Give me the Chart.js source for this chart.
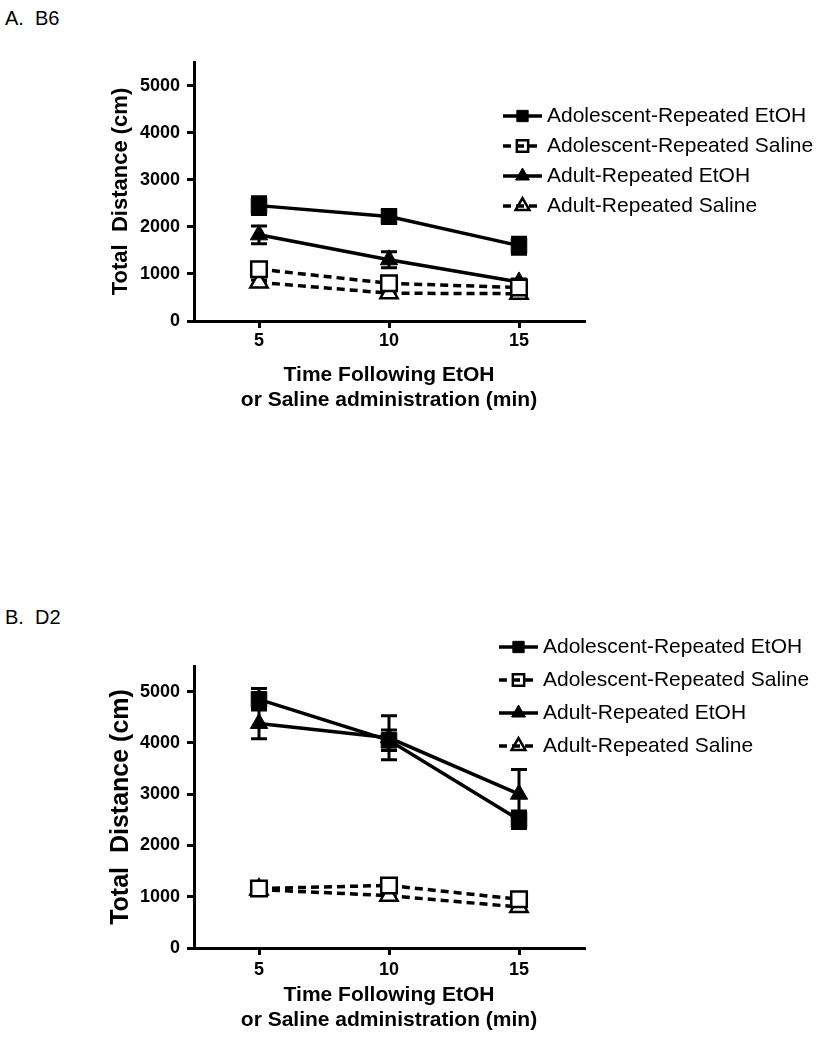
<!DOCTYPE html>
<html>
<head>
<meta charset="utf-8">
<script src="https://cdn.jsdelivr.net/npm/chart.js@4.4.0/dist/chart.umd.min.js"></script>
<style>
  body { margin: 0; background: #fff; width: 822px; height: 1050px; position: relative; font-family: "Liberation Sans", Arial, sans-serif; }
  .tituloPanel { position: absolute; left: 5px; font-size: 20px; line-height: 20px; white-space: pre; color: #000; }
  canvas { position: absolute; left: 0; }
</style>
</head>
<body>
<div class="tituloPanel" style="top:8px">A.  B6</div>
<canvas id="grfB6" width="822" height="420" style="top:0px"></canvas>
<div class="tituloPanel" style="top:607px">B.  D2</div>
<canvas id="grfD2" width="822" height="460" style="top:590px"></canvas>
<script>
// datos
const tiempos = [5, 10, 15];
const ticksX = [5, 10, 15];
const ticksY = [0, 1000, 2000, 3000, 4000, 5000];
const nombresSeries = ['Adolescent-Repeated EtOH', 'Adolescent-Repeated Saline', 'Adult-Repeated EtOH', 'Adult-Repeated Saline'];

// B6
const b6AdolEtOH = [2450, 2220, 1600];
const b6AdolEtOH_err = [190, 150, 180];
const b6AdolSalina = [1100, 800, 710];
const b6AdolSalina_err = [60, 50, 40];
const b6AdultoEtOH = [1830, 1300, 830];
const b6AdultoEtOH_err = [190, 170, 60];
const b6AdultoSalina = [820, 590, 580];
const b6AdultoSalina_err = [50, 50, 40];

// D2
const d2AdolEtOH = [4850, 4050, 2500];
const d2AdolEtOH_err = [210, 200, 170];
const d2AdolSalina = [1160, 1220, 950];
const d2AdolSalina_err = [60, 60, 50];
const d2AdultoEtOH = [4380, 4100, 3000];
const d2AdultoEtOH_err = [300, 430, 480];
const d2AdultoSalina = [1140, 1020, 800];
const d2AdultoSalina_err = [60, 60, 50];

const FUENTE = '"Liberation Sans", Arial, sans-serif';

// barras de error (media +/- eem)
const pluginErrores = {
  id: 'barrasError',
  beforeDatasetsDraw(chart) {
    const ctx = chart.ctx;
    const yS = chart.scales.y;
    ctx.save();
    ctx.strokeStyle = '#000';
    ctx.lineWidth = 3;
    ctx.setLineDash([]);
    chart.data.datasets.forEach(function(ds, i) {
      const meta = chart.getDatasetMeta(i);
      meta.data.forEach(function(pt, j) {
        const v = ds.data[j].y;
        const e = ds.errores[j];
        const yA = yS.getPixelForValue(v + e);
        const yB = yS.getPixelForValue(v - e);
        ctx.beginPath();
        ctx.moveTo(pt.x, yA); ctx.lineTo(pt.x, yB);
        ctx.moveTo(pt.x - 8, yA); ctx.lineTo(pt.x + 8, yA);
        ctx.moveTo(pt.x - 8, yB); ctx.lineTo(pt.x + 8, yB);
        ctx.stroke();
      });
    });
    ctx.restore();
  }
};

// leyenda con linea + marcador, como en GraphPad
const pluginLeyenda = {
  id: 'leyendaGraf',
  afterDraw(chart, args, op) {
    const ctx = chart.ctx;
    ctx.save();
    chart.data.datasets.forEach(function(ds, i) {
      const y = op.y0 + i * op.dy;
      ctx.setLineDash([]);
      ctx.strokeStyle = '#000';
      ctx.fillStyle = ds.pointBackgroundColor;
      ctx.lineWidth = ds.pointBorderWidth;
      Chart.helpers.drawPoint(ctx, {pointStyle: ds.pointStyle, radius: 8, borderWidth: ds.pointBorderWidth, rotation: 0}, (op.x0 + op.x1) / 2, y);
      ctx.lineWidth = 3.5;
      ctx.setLineDash(ds.borderDash || []);
      ctx.beginPath();
      ctx.moveTo(op.x0, y);
      ctx.lineTo(op.x1, y);
      ctx.stroke();
      ctx.setLineDash([]);
      ctx.fillStyle = '#000';
      ctx.font = op.tamTexto + 'px ' + FUENTE;
      ctx.textBaseline = 'middle';
      ctx.textAlign = 'left';
      ctx.fillText(ds.label, op.xTexto, y);
    });
    ctx.restore();
  }
};

function serie(nombre, valores, errores, relleno, marcador, punteada, radio) {
  return {
    label: nombre,
    data: tiempos.map(function(t, k) { return {x: t, y: valores[k]}; }),
    errores: errores,
    borderColor: '#000',
    borderWidth: 3.5,
    borderDash: punteada ? [8, 5] : [],
    pointStyle: marcador,
    pointRadius: radio,
    pointBackgroundColor: relleno ? '#000' : '#fff',
    pointBorderColor: '#000',
    pointBorderWidth: relleno ? 1 : 2.5,
    tension: 0
  };
}

function crearGrafica(idCanvas, datasets, cfg) {
  const ctx = document.getElementById(idCanvas).getContext('2d');
  return new Chart(ctx, {
    type: 'line',
    data: { datasets: datasets },
    plugins: [pluginErrores, pluginLeyenda],
    options: {
      responsive: false,
      animation: false,
      layout: { padding: { top: cfg.arriba, right: 238, left: 0, bottom: 0 } },
      plugins: {
        legend: { display: false },
        tooltip: { enabled: false },
        leyendaGraf: cfg.leyenda
      },
      scales: {
        x: {
          type: 'linear',
          min: 2.5,
          max: 17.5,
          afterBuildTicks: function(s) { s.ticks = ticksX.map(function(v) { return {value: v}; }); },
          afterFit: function(s) { s.height = cfg.altoX; },
          grid: { drawOnChartArea: false, drawTicks: true, tickLength: 7, color: '#000', lineWidth: 3 },
          border: { display: true, color: '#000', width: 3 },
          ticks: {
            color: '#000', padding: cfg.padTickX, maxRotation: 0,
            font: { family: FUENTE, size: 18, weight: 'bold' },
            callback: function(v) { return String(v); }
          },
          title: {
            display: true,
            text: ['Time Following EtOH', 'or Saline administration (min)'],
            color: '#000',
            padding: { top: 0, bottom: cfg.padTituloX },
            font: { family: FUENTE, size: 21, weight: 'bold', lineHeight: 1.2 }
          }
        },
        y: {
          min: 0,
          max: 5500,
          afterBuildTicks: function(s) { s.ticks = ticksY.map(function(v) { return {value: v}; }); },
          afterFit: function(s) { s.width = 194; },
          grid: { drawOnChartArea: false, drawTicks: true, tickLength: 7, color: '#000', lineWidth: 3 },
          border: { display: true, color: '#000', width: 3 },
          ticks: {
            color: '#000', padding: 7,
            font: { family: FUENTE, size: 18, weight: 'bold' },
            callback: function(v) { return String(v); }
          },
          title: {
            display: true,
            text: 'Total  Distance (cm)',
            color: '#000',
            padding: { top: cfg.padTituloY, bottom: 0 },
            font: { family: FUENTE, size: cfg.tamTituloY, weight: 'bold' }
          }
        }
      }
    }
  });
}

crearGrafica('grfB6', [
  serie(nombresSeries[0], b6AdolEtOH, b6AdolEtOH_err, true, 'rect', false, 11),
  serie(nombresSeries[1], b6AdolSalina, b6AdolSalina_err, false, 'rect', true, 11),
  serie(nombresSeries[2], b6AdultoEtOH, b6AdultoEtOH_err, true, 'triangle', false, 10),
  serie(nombresSeries[3], b6AdultoSalina, b6AdultoSalina_err, false, 'triangle', true, 10)
], {
  arriba: 62, altoX: 99, padTickX: 2, padTituloX: 7, padTituloY: 108, tamTituloY: 22,
  leyenda: { x0: 503, x1: 542, xTexto: 547, y0: 116, dy: 30, tamTexto: 21 }
});

crearGrafica('grfD2', [
  serie(nombresSeries[0], d2AdolEtOH, d2AdolEtOH_err, true, 'rect', false, 11),
  serie(nombresSeries[1], d2AdolSalina, d2AdolSalina_err, false, 'rect', true, 11),
  serie(nombresSeries[2], d2AdultoEtOH, d2AdultoEtOH_err, true, 'triangle', false, 10),
  serie(nombresSeries[3], d2AdultoSalina, d2AdultoSalina_err, false, 'triangle', true, 10)
], {
  arriba: 76, altoX: 102, padTickX: 4, padTituloX: 17, padTituloY: 106, tamTituloY: 25,
  leyenda: { x0: 499, x1: 538, xTexto: 543, y0: 57, dy: 33, tamTexto: 21 }
});
</script>
</body>
</html>
